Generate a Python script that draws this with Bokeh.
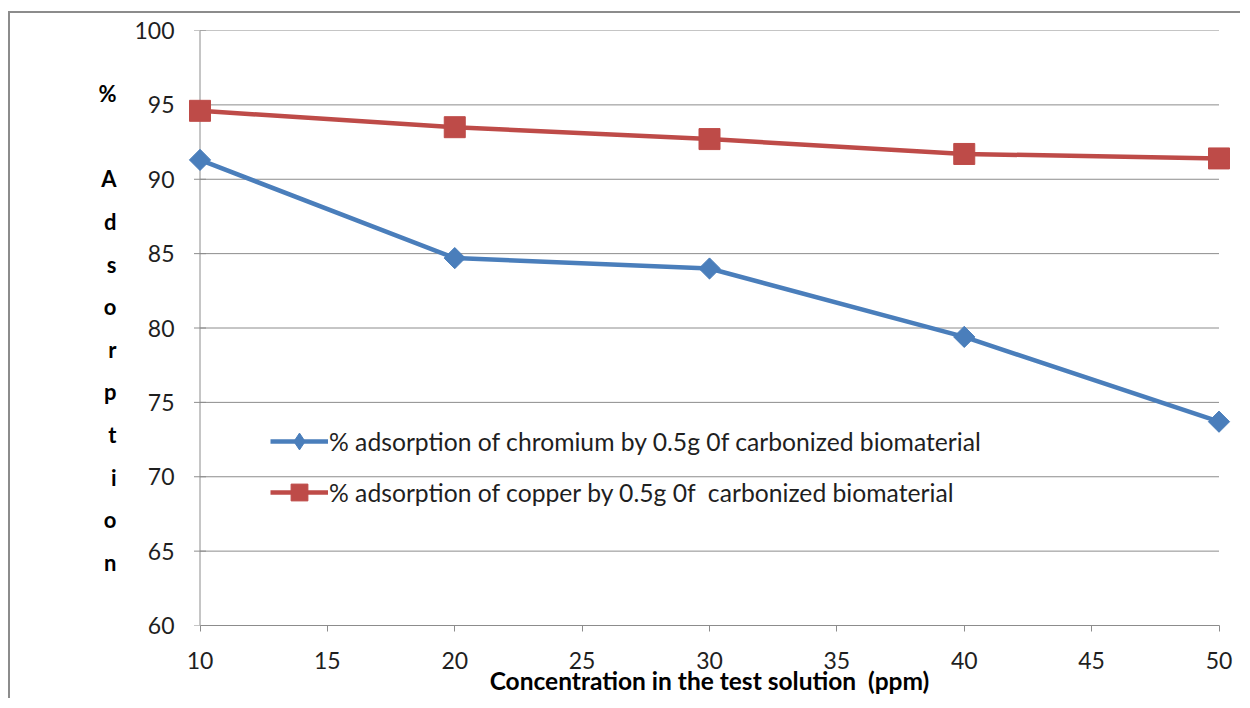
import math
from bokeh.plotting import figure
from bokeh.models import Range1d, FixedTicker, Legend, LegendItem, ColumnDataSource
from bokeh.embed import file_html
from bokeh.resources import INLINE

# ---- data ----
concentration = [10, 20, 30, 40, 50]
chromium = [91.3, 84.7, 84.0, 79.4, 73.7]
copper = [94.6, 93.5, 92.7, 91.7, 91.4]
x_ticks = [10, 15, 20, 25, 30, 35, 40, 45, 50]
y_ticks = [60, 65, 70, 75, 80, 85, 90, 95, 100]
label_chromium = "% adsorption of chromium by 0.5g 0f carbonized biomaterial"
label_copper = "% adsorption of copper by 0.5g 0f\u00a0 carbonized biomaterial"
x_title = "Concentration in the test solution\u00a0 (ppm)"
y_title = "%\n\nA\nd\ns\no\nr\np\nt\ni\no\nn"

BLUE = "#4a7ebb"
RED = "#be4b48"
GRID = "#8c8c8c"
TXT = "#1f1f1f"
FONT = "Lato"

x_min, x_max = x_ticks[0], x_ticks[-1]
y_min, y_max = y_ticks[0], y_ticks[-1]

# horizontal padding inside the frame so the end markers are not clipped
AXIS_SPAN_PX = 1019
PAD_PX = 13.5
pad = PAD_PX * (x_max - x_min) / AXIS_SPAN_PX

src_cr = ColumnDataSource(dict(x=concentration, y=chromium))
src_cu = ColumnDataSource(dict(x=concentration, y=copper))
src_grid = ColumnDataSource(dict(x0=[x_min] * (len(y_ticks) - 1), x1=[x_max] * (len(y_ticks) - 1),
                                 y=y_ticks[1:]))
src_yaxis = ColumnDataSource(dict(x=[x_min], y0=[y_min], y1=[y_max]))
src_yticks = ColumnDataSource(dict(x=[x_min] * len(y_ticks), y=y_ticks))

p = figure(width=1232, height=687, output_backend="svg", toolbar_location=None,
           x_range=Range1d(x_min - pad, x_max + pad), y_range=Range1d(y_min, y_max),
           min_border_left=176, min_border_right=10,
           min_border_top=17, min_border_bottom=75,
           styles={"border-top": "2px solid #8c8c8c", "border-left": "2px solid #8c8c8c"},
           margin=(11, 0, 0, 8))
p.outline_line_color = None
p.background_fill_color = "white"
p.border_fill_color = "white"
p.xgrid.grid_line_color = None
p.ygrid.grid_line_color = None

# horizontal gridlines, vertical axis line and its tick marks at x = 10
p.segment("x0", "y", "x1", "y", source=src_grid, line_color=GRID, line_width=1)
p.segment("x", "y0", "x", "y1", source=src_yaxis, line_color=GRID, line_width=1)
p.scatter("x", "y", source=src_yticks, marker="dash", size=12, line_color=GRID, line_width=1)

for ax in (p.xaxis[0], p.yaxis[0]):
    ax.axis_line_color = GRID
    ax.major_tick_line_color = GRID
    ax.minor_tick_line_color = None
    ax.major_tick_in = 0
    ax.major_tick_out = 6
    ax.major_label_text_font = FONT
    ax.major_label_text_font_size = "23px"
    ax.major_label_text_color = TXT
p.xaxis[0].ticker = FixedTicker(ticks=x_ticks)
p.yaxis[0].ticker = FixedTicker(ticks=y_ticks)
p.xaxis[0].bounds = (x_min, x_max)
p.xaxis[0].major_label_standoff = 20
# y axis line/ticks are drawn as glyphs at x = 10; the axis itself only carries labels
p.yaxis[0].axis_line_color = None
p.yaxis[0].major_tick_line_color = None
p.yaxis[0].major_tick_out = 0
p.yaxis[0].major_label_standoff = 12

xa = p.xaxis[0]
xa.axis_label = x_title
xa.axis_label_text_font = FONT
xa.axis_label_text_font_style = "bold"
xa.axis_label_text_font_size = "24.5px"
xa.axis_label_text_color = "black"
xa.axis_label_standoff = -6
xa.axis_label_text_line_height = 1.0

ya = p.yaxis[0]
ya.axis_label = y_title
ya.axis_label_orientation = "horizontal"
ya.axis_label_text_font = FONT
ya.axis_label_text_font_style = "bold"
ya.axis_label_text_font_size = "22px"
ya.axis_label_text_color = "black"
ya.axis_label_text_line_height = 1.58
ya.axis_label_standoff = 15
ya.axis_label_text_align = "center"

r_cr_line = p.line("x", "y", source=src_cr, line_color=BLUE, line_width=4.5)
# diamond swatch for the legend; fully covered by the rotated squares drawn on top
r_cr_leg = p.scatter("x", "y", source=src_cr, marker="diamond", size=20,
                     fill_color=BLUE, line_color=BLUE)
p.scatter("x", "y", source=src_cr, marker="square", angle=math.pi / 4, size=15,
          fill_color=BLUE, line_color=BLUE)
r_cu_line = p.line("x", "y", source=src_cu, line_color=RED, line_width=4.5)
r_cu_mark = p.scatter("x", "y", source=src_cu, marker="square", size=21,
                      fill_color=RED, line_color=RED)

legend = Legend(items=[LegendItem(label=label_chromium, renderers=[r_cr_line, r_cr_leg]),
                       LegendItem(label=label_copper, renderers=[r_cu_line, r_cu_mark])],
                location=(84, 112), orientation="vertical",
                glyph_width=58, glyph_height=42, label_height=42, spacing=9,
                label_standoff=1, padding=0, margin=0,
                border_line_color=None, background_fill_alpha=0,
                label_text_font=FONT, label_text_font_size="24.7px", label_text_color=TXT)
p.add_layout(legend, "center")

open("out.html", "w").write(file_html(p, INLINE))
